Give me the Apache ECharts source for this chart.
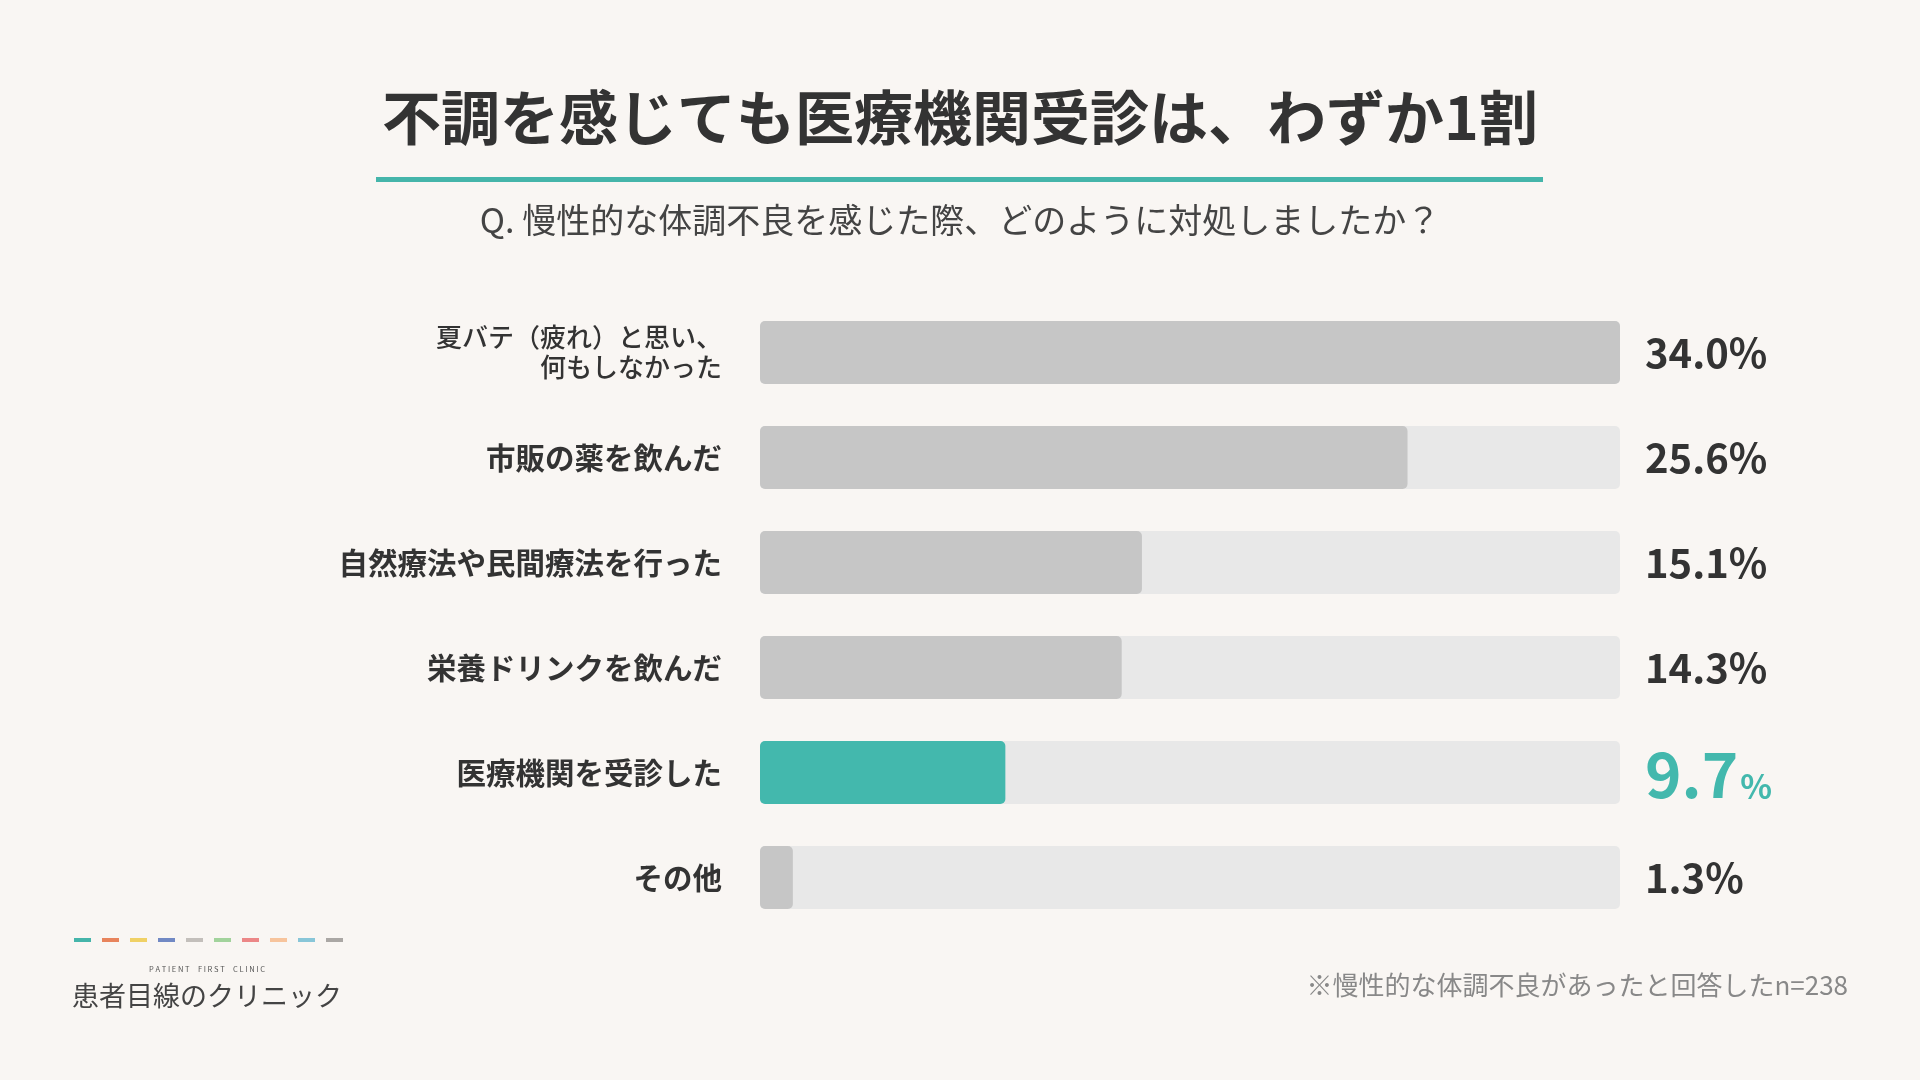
<!DOCTYPE html>
<html>
<head>
<meta charset="utf-8">
<style>
  html, body { margin: 0; padding: 0; background: #f9f6f3; }
  #chart { width: 1920px; height: 1080px; }
</style>
<script src="https://cdn.jsdelivr.net/npm/echarts@6/dist/echarts.min.js"></script>
</head>
<body>
<div id="chart"></div>
<script>
// データ
var categories = [
  '夏バテ（疲れ）と思い、\n何もしなかった',
  '市販の薬を飲んだ',
  '自然療法や民間療法を行った',
  '栄養ドリンクを飲んだ',
  '医療機関を受診した',
  'その他'
];
var values = [34.0, 25.6, 15.1, 14.3, 9.7, 1.3];
var highlightIndex = 4;
var logoColors = ['#45b5aa', '#e8845c', '#f0d165', '#7189c4', '#c3bfbb', '#a2d39c', '#ec8787', '#f7c49c', '#88c6d8', '#aaa7a4'];

var FONT = '"Noto Sans CJK JP", "Noto Sans", sans-serif';
var TEAL = '#43b8ad';

var renderChart = function () {
  var barData = values.map(function (v, i) {
    return {
      value: v,
      itemStyle: { color: i === highlightIndex ? TEAL : '#c6c6c6' }
    };
  });

  // ロゴの色ライン
  var logoDashes = logoColors.map(function (c, i) {
    return {
      type: 'rect',
      shape: { x: 74 + i * 28, y: 938, width: 17, height: 4 },
      style: { fill: c }
    };
  });

  var option = {
    backgroundColor: '#f9f6f3',
    animation: false,
    grid: { left: 760, width: 860, top: 300, height: 630 },
    xAxis: {
      type: 'value',
      min: 0,
      max: 34,
      show: false
    },
    yAxis: [
      {
        type: 'category',
        inverse: true,
        data: categories,
        axisLine: { show: false },
        axisTick: { show: false },
        axisLabel: {
          margin: 38,
          align: 'right',
          formatter: function (v, i) {
            if (v.indexOf('\n') >= 0) {
              return v.split('\n').map(function (s) { return '{s|' + s + '}'; }).join('\n');
            }
            return '{b|' + v + '}';
          },
          rich: {
            b: { fontFamily: FONT, fontSize: 29.5, fontWeight: 'bold', color: '#333' },
            s: { fontFamily: FONT, fontSize: 26, fontWeight: 500, color: '#333', lineHeight: 30 }
          }
        }
      },
      {
        type: 'category',
        inverse: true,
        position: 'right',
        data: categories,
        axisLine: { show: false },
        axisTick: { show: false },
        axisLabel: {
          margin: 25,
          align: 'left',
          formatter: function (v, i) {
            var txt = values[i].toFixed(1);
            if (i === highlightIndex) {
              return '{h|' + txt + '}{hp|%}';
            }
            return '{n|' + txt + '%}';
          },
          rich: {
            n: { fontFamily: FONT, fontSize: 40, fontWeight: 'bold', color: '#333' },
            h: { fontFamily: FONT, fontSize: 62, fontWeight: 'bold', color: TEAL, lineHeight: 66, verticalAlign: 'bottom' },
            hp: { fontFamily: FONT, fontSize: 33, fontWeight: 'bold', color: TEAL, lineHeight: 66, verticalAlign: 'bottom', padding: [0, 0, 3, 2] }
          }
        }
      }
    ],
    series: [
      {
        type: 'bar',
        barWidth: 63,
        data: barData,
        showBackground: true,
        backgroundStyle: { color: '#e8e8e8', borderRadius: 5 },
        itemStyle: { borderRadius: 5 }
      }
    ],
    graphic: [
      {
        type: 'text',
        left: 'center',
        top: 88,
        style: {
          text: '不調を感じても医療機関受診は、わずか1割',
          font: 'bold 59px ' + FONT,
          fill: '#333'
        }
      },
      {
        type: 'rect',
        shape: { x: 376, y: 177, width: 1167, height: 5 },
        style: { fill: '#45b5aa' }
      },
      {
        type: 'text',
        left: 'center',
        top: 203,
        style: {
          text: 'Q. 慢性的な体調不良を感じた際、どのように対処しましたか？',
          font: '34px ' + FONT,
          fill: '#444'
        }
      },
      {
        type: 'text',
        right: 72,
        top: 972,
        style: {
          text: '※慢性的な体調不良があったと回答したn=238',
          font: '26px ' + FONT,
          fill: '#888'
        }
      },
      {
        type: 'text',
        x: 207,
        y: 969,
        style: {
          text: 'P A T I E N T     F I R S T     C L I N I C',
          font: '7.5px ' + FONT,
          fill: '#555',
          align: 'center',
          verticalAlign: 'middle'
        }
      },
      {
        type: 'text',
        x: 207,
        y: 996,
        style: {
          text: '患者目線のクリニック',
          font: '27px ' + FONT,
          fill: '#444',
          align: 'center',
          verticalAlign: 'middle'
        }
      }
    ].concat(logoDashes)
  };

  var myChart = echarts.init(document.getElementById('chart'));
  myChart.setOption(option);
};

renderChart();
</script>
</body>
</html>
